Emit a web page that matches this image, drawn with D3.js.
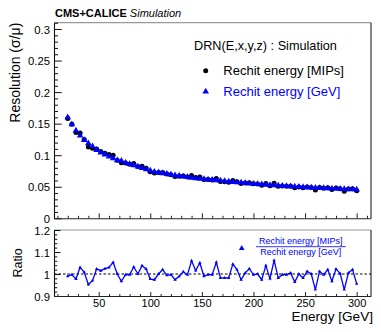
<!DOCTYPE html>
<html><head><meta charset="utf-8">
<script src="https://cdn.jsdelivr.net/npm/d3@7/dist/d3.min.js"></script>
<style>body{margin:0;background:#fff}svg{display:block}text{font-family:"Liberation Sans",Arial,Helvetica,sans-serif}</style>
</head><body><svg id="c" width="381" height="332"></svg>
<script>
const energies = [20,24,28,32,36,40,44,48,52,56,60,64,68,72,76,80,84,88,92,96,100,104,108,112,116,120,124,128,132,136,140,144,148,152,156,160,164,168,172,176,180,184,188,192,196,200,204,208,212,216,220,224,228,232,236,240,244,248,252,256,260,264,268,272,276,280,284,288,292,296,300];
const resGeV = [0.160,0.149,0.139,0.131,0.124,0.119,0.114,0.108,0.104,0.101,0.098,0.095,0.092,0.091,0.088,0.086,0.084,0.082,0.0795,0.0775,0.0755,0.0735,0.0725,0.0712,0.0705,0.0692,0.0682,0.0672,0.0662,0.0655,0.0640,0.0635,0.0625,0.0622,0.0615,0.0608,0.0600,0.0596,0.0590,0.0583,0.0575,0.0568,0.0565,0.0558,0.0552,0.0548,0.0543,0.0538,0.0532,0.0528,0.0522,0.0518,0.0514,0.0510,0.0506,0.0502,0.0498,0.0494,0.0491,0.0488,0.0484,0.0481,0.0478,0.0475,0.0472,0.0469,0.0466,0.0463,0.0461,0.0458,0.0456];
const resMIPs = [0.158,0.149,0.136,0.135,0.125,0.113,0.111,0.110,0.106,0.103,0.101,0.100,0.092,0.088,0.0877,0.0857,0.0867,0.082,0.0825,0.0793,0.0738,0.0716,0.0725,0.0726,0.0701,0.0690,0.0664,0.0665,0.0669,0.0653,0.0678,0.0645,0.0656,0.0616,0.0613,0.0606,0.0632,0.0585,0.0579,0.0573,0.0601,0.0579,0.0550,0.0561,0.0565,0.0546,0.0543,0.0524,0.0552,0.0517,0.0554,0.0509,0.0512,0.0508,0.0509,0.0484,0.0498,0.0485,0.0497,0.0488,0.0450,0.0487,0.0477,0.0485,0.0456,0.0480,0.0467,0.0430,0.0463,0.0467,0.0436];
const ratio = [0.990,0.997,0.977,1.030,1.008,0.952,0.970,1.023,1.015,1.024,1.030,1.053,1.000,0.967,0.997,0.997,1.032,1.000,1.038,1.023,0.977,0.974,1.000,1.020,0.994,0.997,0.974,0.990,1.010,0.997,1.060,1.016,1.050,0.990,0.997,0.997,1.053,0.982,0.982,0.982,1.045,1.020,0.974,1.005,1.024,0.997,1.000,0.974,1.038,0.979,1.062,0.982,0.997,0.997,1.005,0.964,1.000,0.982,1.012,1.000,0.929,1.012,0.997,1.020,0.967,1.023,1.002,0.929,1.005,1.020,0.956];
const yTopTicks = [0,0.05,0.1,0.15,0.2,0.25,0.3];
const yTopLabels = ["0","0.05","0.1","0.15","0.2","0.25","0.3"];
const yBotTicks = [0.9,1,1.1,1.2];
const yBotLabels = ["0.9","1","1.1","1.2"];
const xTicks = [50,100,150,200,250,300];
const xLabels = ["50","100","150","200","250","300"];
const legendLabels = ["DRN(E,x,y,z) : Simulation","Rechit energy [MIPs]","Rechit energy [GeV]"];

const svg = d3.select("#c");
const BLUE = "#0000ff";
const L = 54, R = 371;
const x = d3.scaleLinear().domain([6.7, 313.9]).range([L, R]);
const yT = d3.scaleLinear().domain([0, 0.31]).range([218.3, 22.7]);
const yB = d3.scaleLinear().domain([0.9, 1.2]).range([296, 230]);

function frame(y0, y1) {
  svg.append("line").attr("x1", L).attr("x2", R).attr("y1", y0).attr("y2", y0).attr("stroke", "#999").attr("stroke-width", 1.2);
  svg.append("line").attr("x1", R).attr("x2", R).attr("y1", y0).attr("y2", y1).attr("stroke", "#333").attr("stroke-width", 1.2);
}
frame(22.7, 218.3);
frame(230, 296);

function axes(y, yTicks, yLabels, yMinor, ymaj, ymin, xmaj, xmin, showX) {
  const [yb] = y.range();
  const ay = d3.axisLeft(y).tickValues(yTicks).tickFormat((d, i) => yLabels[i]).tickSize(-ymaj).tickSizeOuter(0).tickPadding(4);
  const gy = svg.append("g").attr("transform", `translate(${L},0)`).call(ay);
  gy.selectAll("text").attr("font-size", 11.3).attr("fill", "#000").attr("font-family", "Liberation Sans, Arial, sans-serif").attr("dy", "0.36em");
  gy.select(".domain").attr("stroke", "#111").attr("stroke-width", 1.1);
  gy.selectAll(".tick line").attr("stroke", "#111");
  const ym = svg.append("g").attr("transform", `translate(${L},0)`).call(d3.axisLeft(y).tickValues(yMinor).tickFormat("").tickSize(-ymin).tickSizeOuter(0));
  ym.select(".domain").remove();
  ym.selectAll(".tick line").attr("stroke", "#111");
  const ax = d3.axisBottom(x).tickValues(xTicks).tickFormat((d, i) => showX ? xLabels[i] : "").tickSize(-xmaj).tickSizeOuter(0).tickPadding(3);
  const gx = svg.append("g").attr("transform", `translate(0,${yb})`).call(ax);
  gx.select(".domain").attr("stroke", "#222").attr("stroke-width", 1.1);
  gx.selectAll(".tick line").attr("stroke", "#222");
  gx.selectAll("text").attr("font-size", 11).attr("fill", "#000").attr("font-family", "Liberation Sans, Arial, sans-serif");
  const xMinor = d3.range(10, 311, 10).filter(v => v % 50 !== 0);
  const xm = svg.append("g").attr("transform", `translate(0,${yb})`).call(d3.axisBottom(x).tickValues(xMinor).tickFormat("").tickSize(-xmin).tickSizeOuter(0));
  xm.select(".domain").remove();
  xm.selectAll(".tick line").attr("stroke", "#222");
}
axes(yT, yTopTicks, yTopLabels, d3.range(0, 0.3101, 0.01).map(v => +v.toFixed(2)).filter(v => Math.round(v * 100) % 5 !== 0), 7.7, 4, 5, 2.5, false);
axes(yB, yBotTicks, yBotLabels, [0.92,0.94,0.96,0.98,1.02,1.04,1.06,1.08,1.12,1.14,1.16,1.18], 6.5, 3.3, 4, 2, true);

// top panel points
svg.append("g").selectAll("circle").data(energies).join("circle")
  .attr("cx", (d) => x(d)).attr("cy", (d, i) => yT(resMIPs[i])).attr("r", 2.5).attr("fill", "#000");
const tri = d3.symbol().type(d3.symbolTriangle).size(19);
svg.append("g").selectAll("path").data(energies).join("path")
  .attr("d", tri).attr("transform", (d, i) => `translate(${x(d)},${yT(resGeV[i])})`).attr("fill", BLUE);

// ratio panel
svg.append("line").attr("x1", L).attr("x2", R).attr("y1", yB(1)).attr("y2", yB(1))
  .attr("stroke", "#000").attr("stroke-width", 1).attr("stroke-dasharray", "2.5,2");
const line = d3.line().x((d) => x(d)).y((d, i) => yB(ratio[i]));
svg.append("path").datum(energies).attr("d", line).attr("fill", "none").attr("stroke", BLUE).attr("stroke-width", 1.3);
const triS = d3.symbol().type(d3.symbolTriangle).size(5);
svg.append("g").selectAll("path").data(energies).join("path")
  .attr("d", triS).attr("transform", (d, i) => `translate(${x(d)},${yB(ratio[i])})`).attr("fill", BLUE);

// titles
const t = svg.append("text").attr("x", 55).attr("y", 17).attr("font-size", 11);
t.append("tspan").attr("font-weight", "bold").text("CMS+CALICE");
t.append("tspan").attr("font-style", "italic").text(" Simulation");

svg.append("text").attr("transform", "translate(19.8,22.7) rotate(-90)").attr("text-anchor", "end")
  .attr("font-size", 14).text("Resolution (σ/μ)");
svg.append("text").attr("transform", "translate(21.5,263) rotate(-90)").attr("text-anchor", "middle")
  .attr("font-size", 12.5).text("Ratio");
svg.append("text").attr("x", 373).attr("y", 321).attr("text-anchor", "end").attr("font-size", 13.6).text("Energy [GeV]");

// legend top
svg.append("text").attr("x", 194).attr("y", 50).attr("font-size", 12.7).text(legendLabels[0]);
svg.append("circle").attr("cx", 205.7).attr("cy", 70.7).attr("r", 2.5).attr("fill", "#000");
svg.append("text").attr("x", 223.3).attr("y", 74.5).attr("font-size", 13).text(legendLabels[1]);
svg.append("path").attr("d", tri).attr("transform", "translate(205.7,91.5)").attr("fill", BLUE);
svg.append("text").attr("x", 223.3).attr("y", 95.5).attr("font-size", 13).attr("fill", BLUE).text(legendLabels[2]);

// legend ratio
svg.append("path").attr("d", d3.symbol().type(d3.symbolTriangle).size(14)).attr("transform", "translate(241.7,248.3)").attr("fill", BLUE);
svg.append("text").attr("x", 300.8).attr("y", 244.3).attr("text-anchor", "middle").attr("font-size", 9).attr("fill", BLUE).text(legendLabels[1]);
svg.append("line").attr("x1", 256).attr("x2", 345.7).attr("y1", 246.7).attr("y2", 246.7).attr("stroke", BLUE).attr("stroke-width", 0.8);
svg.append("text").attr("x", 300.8).attr("y", 255.3).attr("text-anchor", "middle").attr("font-size", 9).attr("fill", BLUE).text(legendLabels[2]);
</script></body></html>
